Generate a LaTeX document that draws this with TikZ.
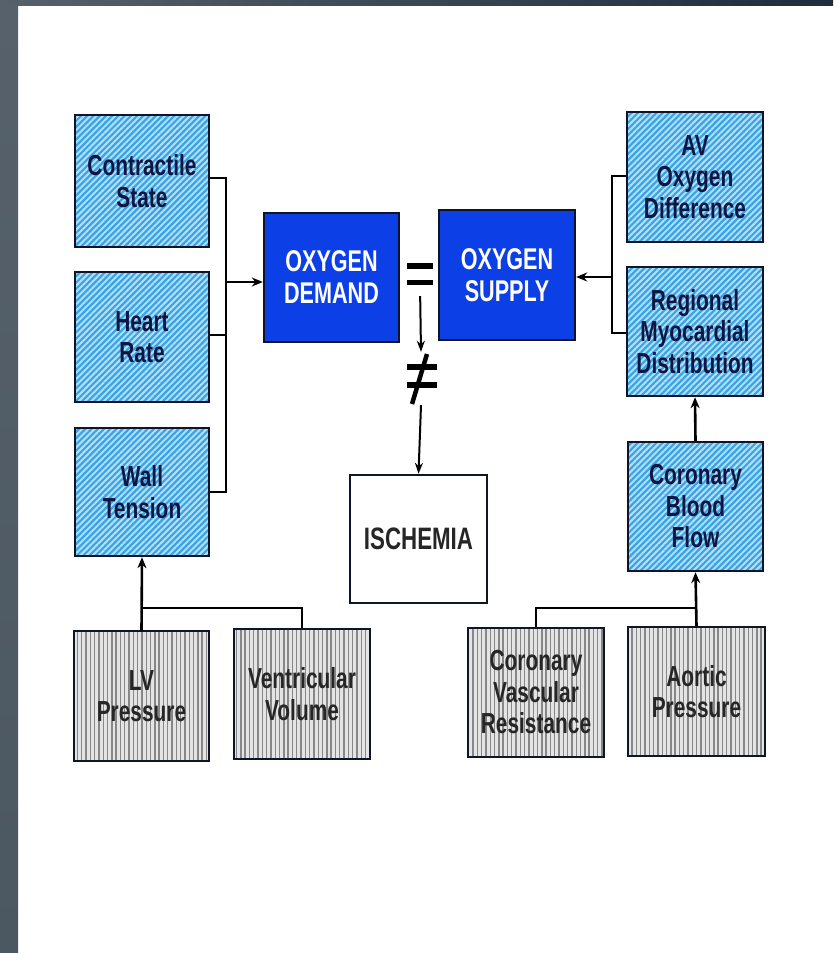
\documentclass[tikz,border=0pt]{standalone}
\usepackage{fontspec}
\newfontfamily\labfont[FakeStretch=0.72]{Liberation Sans}
\usetikzlibrary{arrows.meta,patterns.meta}
\definecolor{hatchbg}{HTML}{3AA2E6}
\definecolor{hatchln}{HTML}{B0E0FA}
\definecolor{graybg}{HTML}{E4E4E4}
\definecolor{grayln}{HTML}{878787}
\definecolor{solidblue}{HTML}{0D3FE6}
\definecolor{boxline}{HTML}{10142A}
\definecolor{navytext}{HTML}{0E1640}
\definecolor{stripL}{HTML}{56616B}
\definecolor{stripR}{HTML}{1F2C3D}
\definecolor{stripB}{HTML}{4B5761}
\begin{document}
\begin{tikzpicture}[x=1pt,y=-1pt,
  base/.style={rectangle,draw=boxline,line width=2.4pt,inner sep=0pt,align=center,
    font=\labfont\bfseries\fontsize{29}{31.5}\selectfont},
  hbox/.style={base,preaction={fill=hatchbg},
    pattern={Lines[angle=45,distance=4.4pt,line width=2pt]},pattern color=hatchln,
    text=navytext},
  gbox/.style={base,preaction={fill=graybg},
    pattern={Lines[angle=90,distance=4.3pt,line width=1.4pt]},pattern color=grayln,
    text=black!85},
  obox/.style={base,fill=solidblue,text=white,font=\labfont\bfseries\fontsize{30}{32}\selectfont},
  wbox/.style={base,fill=white,text=black!85,font=\labfont\bfseries\fontsize{31}{33}\selectfont},
  conn/.style={draw=black,line width=2.6pt},
  arr/.style={conn,-{Stealth[length=11pt,width=9pt]}},
  thinarr/.style={draw=black,line width=2pt,-{Stealth[length=11pt,width=8pt]}},
  sym/.style={fill=black}]
\useasboundingbox (0,0) rectangle (833,953);
% background frame
\fill[white] (0,0) rectangle (833,953);
\shade[top color=stripL,bottom color=stripB] (0,0) rectangle (18,953);
\shade[left color=stripL,right color=stripR] (0,0) rectangle (833,5);

% left column
\node[hbox,minimum width=134pt,minimum height=132pt] (cs) at (142,181) {Contractile\\State};
\node[hbox,minimum width=134pt,minimum height=130pt] (hr) at (142,337) {Heart\\Rate};
\node[hbox,minimum width=134pt,minimum height=128pt] (wt) at (142,492) {Wall\\Tension};
% centre
\node[obox,minimum width=135pt,minimum height=129pt] (od) at (331.5,277.5) {OXYGEN\\DEMAND};
\node[obox,minimum width=136pt,minimum height=130pt] (os) at (507,275) {OXYGEN\\SUPPLY};
\node[wbox,minimum width=137pt,minimum height=128pt] (isc) at (418.5,539) {ISCHEMIA};
% right column
\node[hbox,minimum width=136pt,minimum height=130pt] (av) at (695,177) {AV\\Oxygen\\Difference};
\node[hbox,minimum width=136pt,minimum height=129pt] (rm) at (695,331.5) {Regional\\Myocardial\\Distribution};
\node[hbox,minimum width=135pt,minimum height=129pt] (cbf) at (695.5,506.5) {Coronary\\Blood\\Flow};
% bottom row
\node[gbox,minimum width=135pt,minimum height=130pt] (lvp) at (141.5,696) {LV\\Pressure};
\node[gbox,minimum width=136pt,minimum height=130pt] (vv) at (302,694) {Ventricular\\Volume};
\node[gbox,minimum width=136pt,minimum height=129pt] (cvr) at (536,692.5) {Coronary\\Vascular\\Resistance};
\node[gbox,minimum width=137pt,minimum height=129pt] (ap) at (696.5,691.5) {Aortic\\Pressure};

% equals and not-equals signs
\node[minimum width=26pt,minimum height=22pt,inner sep=0pt] (eq) at (420,274) {};
\fill[sym] (407,263) rectangle (433,268.5);
\fill[sym] (407,279.5) rectangle (433,285);
\node[minimum width=30pt,minimum height=53pt,inner sep=0pt] (neq) at (421,378.5) {};
\fill[sym] (407,364) rectangle (437,369.5);
\fill[sym] (407,382) rectangle (437,387.5);
\draw[line width=4.5pt] (427,354) -- (412,404);

% coordinates for junctions
\coordinate (lbmid) at (226,282);
\coordinate (rbmid) at (612,277);
\coordinate (lj) at (141.5,608);
\coordinate (rj) at (696.5,608);

% left bracket
\draw[conn] (cs.east |- 0,178) -- (226,178) -- (226,492) -- (wt.east |- 0,492);
\draw[conn] (hr.east |- 0,335) -- (226,335);
\draw[arr] (lbmid) -- (lbmid -| od.west);
% right bracket
\draw[conn] (av.west |- 0,176) -- (612,176) -- (612,333) -- (rm.west |- 0,333);
\draw[arr] (rbmid) -- (rbmid -| os.east);
% vertical right arrows
\draw[arr] (cbf.north) -- (rm.south);
\draw[arr] (ap.north) -- (cbf.south);
\draw[conn] (cvr.north) |- (rj);
% bottom left
\draw[arr] (lvp.north) -- (wt.south);
\draw[conn] (vv.north) |- (lj);
% centre arrows
\draw[thinarr,shorten <=11pt] (eq.south) -- (neq.north);
\draw[thinarr] (neq.south) -- (isc.north);
\end{tikzpicture}
\end{document}
